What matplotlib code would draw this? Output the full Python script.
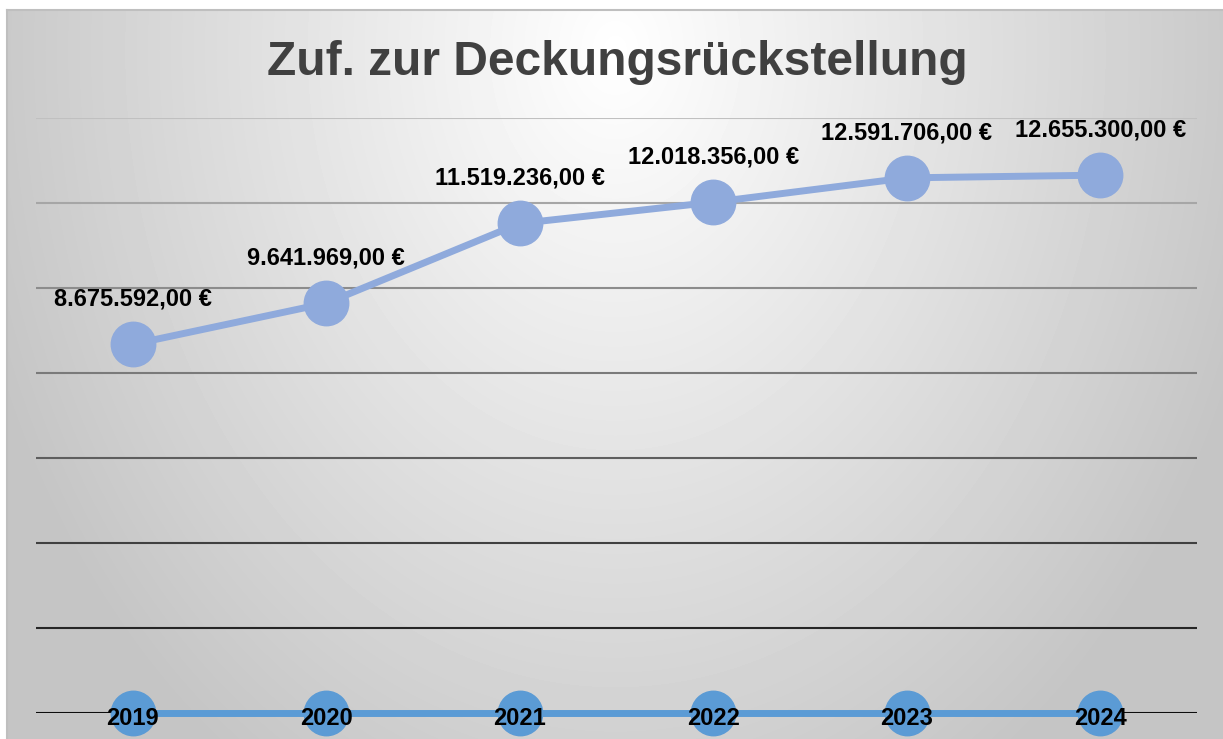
import numpy as np
import matplotlib.pyplot as plt

plt.rcParams['font.family'] = ['Liberation Sans', 'DejaVu Sans']

years = ['2019', '2020', '2021', '2022', '2023', '2024']
values = [8675592, 9641969, 11519236, 12018356, 12591706, 12655300]
year_series = [0, 0, 0, 0, 0, 0]
grid_levels = [0, 2e6, 4e6, 6e6, 8e6, 10e6, 12e6, 14e6]
grid_colors = ['#0d0d0d', '#262626', '#404040', '#5e5e5e',
               '#7a7a7a', '#8c8c8c', '#a6a6a6', '#c0c0c0']


def euro(v):
    s = '{:,.2f}'.format(v)
    s = s.replace(',', 'X').replace('.', ',').replace('X', '.')
    return s + ' €'


W, H = 1223, 739
fig = plt.figure(figsize=(W / 100, H / 100), dpi=100)
fig.patch.set_facecolor('white')

# gradient background panel
bg = fig.add_axes([7 / W, 0, (W - 7) / W, (H - 10) / H])
h, w = H - 10, W - 7
yy, xx = np.mgrid[0:h, 0:w]
d = np.sqrt(((xx - w * 0.5) / (w * 0.6)) ** 2 + ((yy - 40) / (h * 1.3)) ** 2)
shade = np.clip(1 - 0.25 * d, 0.77, 1)
bg.imshow(shade, cmap='gray', vmin=0, vmax=1, aspect='auto',
          interpolation='bilinear')
bg.set_xticks([])
bg.set_yticks([])
for side in ['right', 'bottom']:
    bg.spines[side].set_visible(False)
for side in ['left', 'top']:
    bg.spines[side].set_color('#bfbfbf')
    bg.spines[side].set_linewidth(1.5)

ax = fig.add_axes([36 / W, 26 / H, 1161 / W, 595 / H])
ax.set_facecolor('none')
ax.set_xlim(-0.5, 5.5)
ax.set_ylim(0, 14e6)
for lvl, c in zip(grid_levels, grid_colors):
    ax.axhline(lvl, color=c, lw=1.5, zorder=1)
for s in ax.spines.values():
    s.set_visible(False)
ax.set_xticks([])
ax.set_yticks([])

x = np.arange(len(years))
ax.plot(x, values, color='#8FAADC', lw=5, marker='o', ms=32,
        zorder=3, clip_on=False)
ax.plot(x, year_series, color='#5B9BD5', lw=5, marker='o', ms=32,
        zorder=3, clip_on=False)

for i, v in enumerate(values):
    ax.annotate(euro(v), (i, v), xytext=(0, 27.7), textcoords='offset points',
                ha='center', va='baseline', fontsize=17, fontweight='bold',
                color='black', zorder=5)
for i, yr in enumerate(years):
    ax.annotate(yr, (i, year_series[i]), xytext=(0, -8.3),
                textcoords='offset points', ha='center', va='baseline',
                fontsize=17, fontweight='bold', color='black', zorder=5,
                annotation_clip=False)

fig.text(617 / W, 1 - 75 / H, 'Zuf. zur Deckungsrückstellung',
         ha='center', va='baseline', fontsize=34.5, fontweight='bold',
         color='#404040')

fig.savefig('out.png', dpi=100)
